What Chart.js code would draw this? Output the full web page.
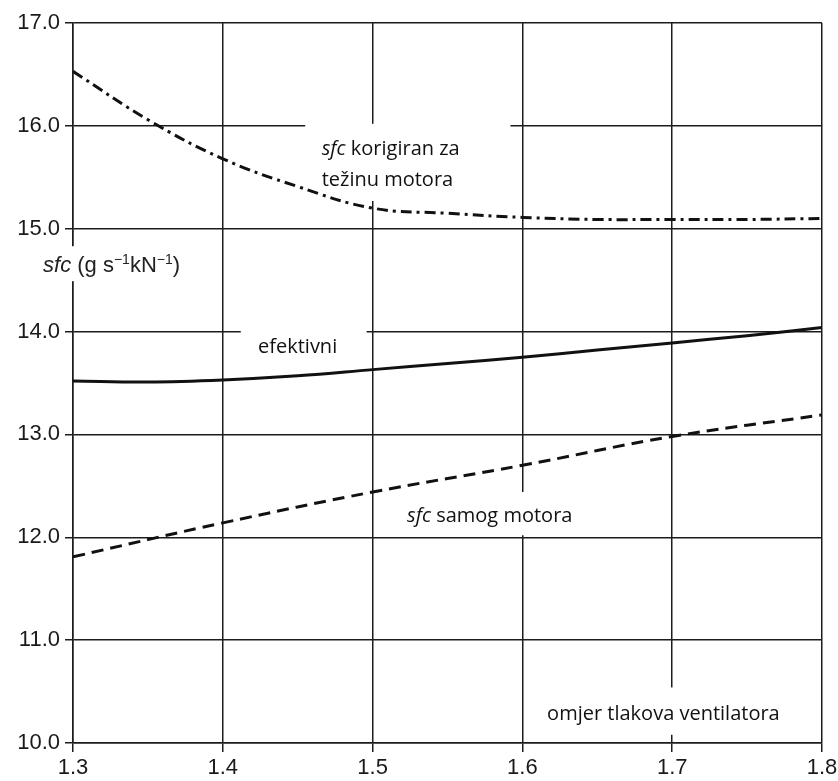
<!DOCTYPE html>
<html>
<head>
<meta charset="utf-8">
<script src="https://cdn.jsdelivr.net/npm/chart.js@4"></script>
<style>
  body { margin: 0; background: #fff; }
  #wrap { width: 838px; height: 781px; position: relative; }
</style>
</head>
<body>
<div id="wrap"><canvas id="sfcChart"></canvas></div>
<script>
// fan pressure ratio (x) and sfc values
const xFine = [1.3, 1.35, 1.4, 1.45, 1.5, 1.55, 1.6, 1.65, 1.7, 1.75, 1.8];
const xCoarse = [1.3, 1.4, 1.5, 1.6, 1.7, 1.8];

const sfcCorrected = [16.53, 16.06, 15.68, 15.41, 15.20, 15.15, 15.11, 15.09, 15.09, 15.09, 15.10];
const sfcEffective = [13.52, 13.51, 13.53, 13.57, 13.63, 13.69, 13.75, 13.82, 13.89, 13.96, 14.04];
const sfcEngine = [11.81, 12.14, 12.44, 12.70, 12.98, 13.19];

const xTicks = [1.3, 1.4, 1.5, 1.6, 1.7, 1.8];
const yTicks = [10, 11, 12, 13, 14, 15, 16, 17];

// text labels inside the plot (each one sits on a white patch that hides the grid)
const notes = [
  { box: [1.455, 1.592, 16.02, 15.27], x: 1.466, base: [15.72, 15.42],
    lines: [[['sfc', true], [' korigiran za', false]], [['težinu motora', false]]] },
  { box: [1.412, 1.496, 14.06, 13.68], x: 1.4235, base: [13.79],
    lines: [[['efektivni', false]]] },
  { box: [1.517, 1.642, 12.44, 12.02], x: 1.523, base: [12.15],
    lines: [[['sfc', true], [' samog motora', false]]] },
  { box: [1.612, 1.782, 10.54, 10.08], x: 1.6165, base: [10.22],
    lines: [[['omjer tlakova ventilatora', false]]] }
];

const axisTitle = { box: [1.279, 1.378, 14.83, 14.49], x: 1.28, base: 14.58 };

const toPoints = (xs, ys) => xs.map((x, i) => ({ x: x, y: ys[i] }));

const notesPlugin = {
  id: 'notes',
  beforeDatasetsDraw(chart) {
    const c = chart.ctx;
    const xs = chart.scales.x;
    const ys = chart.scales.y;
    c.save();
    c.fillStyle = '#fff';
    notes.concat([axisTitle]).forEach(n => {
      const l = xs.getPixelForValue(n.box[0]);
      const r = xs.getPixelForValue(n.box[1]);
      const t = ys.getPixelForValue(n.box[2]);
      const b = ys.getPixelForValue(n.box[3]);
      c.fillRect(l, t, r - l, b - t);
    });
    c.restore();
  },
  afterDatasetsDraw(chart) {
    const c = chart.ctx;
    const xs = chart.scales.x;
    const ys = chart.scales.y;
    c.save();
    c.fillStyle = '#111';
    c.textBaseline = 'alphabetic';
    notes.forEach(n => {
      n.lines.forEach((line, i) => {
        let px = xs.getPixelForValue(n.x);
        const py = ys.getPixelForValue(n.base[i]);
        line.forEach(seg => {
          c.font = (seg[1] ? 'italic ' : '') + '20px "Open Sans", sans-serif';
          c.fillText(seg[0], px, py);
          px += c.measureText(seg[0]).width;
        });
      });
    });

    // y axis title, with raised "−1" exponents
    let px = xs.getPixelForValue(axisTitle.x);
    const py = ys.getPixelForValue(axisTitle.base);
    const fam = '"Liberation Sans", Arial, sans-serif';
    const parts = [
      ['sfc', 'italic 22px ' + fam, 0],
      [' (g s', '22px ' + fam, 0],
      ['\u22121', '14px ' + fam, -8],
      ['kN', '22px ' + fam, 0],
      ['\u22121', '14px ' + fam, -8],
      [')', '22px ' + fam, 0]
    ];
    c.fillStyle = '#222';
    parts.forEach(p => {
      c.font = p[1];
      c.fillText(p[0], px, py + p[2]);
      px += c.measureText(p[0]).width;
    });
    c.restore();
  }
};

const gridColor = '#1c1c1c';
const tickFont = { family: '"Liberation Sans", Arial, sans-serif', size: 22 };

new Chart(document.getElementById('sfcChart'), {
  type: 'line',
  data: {
    datasets: [
      {
        label: 'sfc korigiran za težinu motora',
        data: toPoints(xFine, sfcCorrected),
        borderColor: '#111',
        borderWidth: 3,
        borderDash: [11, 5, 3, 5],
        tension: 0.4,
        pointRadius: 0
      },
      {
        label: 'efektivni',
        data: toPoints(xFine, sfcEffective),
        borderColor: '#111',
        borderWidth: 3,
        tension: 0.4,
        pointRadius: 0
      },
      {
        label: 'sfc samog motora',
        data: toPoints(xCoarse, sfcEngine),
        borderColor: '#111',
        borderWidth: 3,
        borderDash: [12, 7],
        tension: 0.4,
        pointRadius: 0
      }
    ]
  },
  options: {
    responsive: true,
    maintainAspectRatio: false,
    animation: false,
    layout: { padding: { top: 23, right: 16, left: 0, bottom: 0 } },
    plugins: {
      legend: { display: false },
      tooltip: { enabled: false }
    },
    scales: {
      x: {
        type: 'linear',
        min: 1.3,
        max: 1.8,
        afterBuildTicks: (scale) => { scale.ticks = xTicks.map(v => ({ value: v })); },
        afterFit: (scale) => { scale.height = 38; scale.paddingLeft = 0; scale.paddingRight = 0; },
        ticks: {
          color: '#1a1a1a',
          font: tickFont,
          padding: 3,
          maxRotation: 0,
          callback: (v) => Number(v).toFixed(1)
        },
        grid: { color: gridColor, lineWidth: 1.5, tickLength: 9, tickColor: gridColor },
        border: { color: gridColor, width: 1.5 }
      },
      y: {
        min: 10,
        max: 17,
        afterBuildTicks: (scale) => { scale.ticks = yTicks.map(v => ({ value: v })); },
        afterFit: (scale) => { scale.width = 73; scale.paddingTop = 0; scale.paddingBottom = 0; },
        ticks: {
          color: '#1a1a1a',
          font: tickFont,
          padding: 5,
          callback: (v) => Number(v).toFixed(1)
        },
        grid: { color: gridColor, lineWidth: 1.5, tickLength: 8, tickColor: gridColor },
        border: { color: gridColor, width: 1.5 }
      }
    }
  },
  plugins: [notesPlugin]
});
</script>
</body>
</html>
